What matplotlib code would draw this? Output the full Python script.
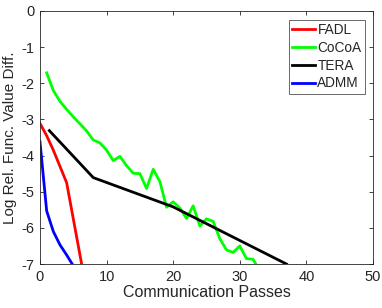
import matplotlib
matplotlib.use("Agg")
import matplotlib.pyplot as plt

fadl_x = [0, 1, 2, 3, 4, 5, 6, 7]
fadl_y = [-3.11, -3.45, -3.85, -4.3, -4.75, -5.75, -6.75, -7.75]

cocoa_x = list(range(1, 33)) + [32.4]
cocoa_y = [-1.71, -2.2, -2.5, -2.72, -2.93, -3.12, -3.32, -3.57, -3.65, -3.85, -4.14,
           -4.02, -4.28, -4.49, -4.5, -4.91, -4.38, -4.72, -5.43, -5.28, -5.45, -5.74,
           -5.39, -5.95, -5.75, -5.82, -6.3, -6.61, -6.68, -6.5, -6.85, -6.87, -7.0]

tera_x = [1.4, 8, 20, 37]
tera_y = [-3.31, -4.61, -5.42, -7.0]

admm_x = [0, 1, 2, 3, 4, 5]
admm_y = [-3.62, -5.53, -6.1, -6.47, -6.75, -7.05]

xticks = [0, 10, 20, 30, 40, 50]
yticks = [0, -1, -2, -3, -4, -5, -6, -7]

plt.rcParams['font.family'] = ['Liberation Sans', 'DejaVu Sans']

fig = plt.figure(figsize=(3.82, 3.08), dpi=100)
ax = fig.add_axes([40/382, 1 - 264/308, (373-40)/382, (264-11)/308])

lw = 2.0
ax.plot(fadl_x, fadl_y, color='#ff0000', lw=lw, label='FADL')
ax.plot(cocoa_x, cocoa_y, color='#00ff00', lw=lw, label='CoCoA')
ax.plot(tera_x, tera_y, color='#000000', lw=lw, label='TERA')
ax.plot(admm_x, admm_y, color='#0000ff', lw=lw, label='ADMM')

ax.set_xlim(0, 50)
ax.set_ylim(-7, 0)
ax.set_xticks(xticks)
ax.set_yticks(yticks)
ax.set_yticklabels([str(v) for v in yticks])
ax.tick_params(direction='in', top=True, right=True, length=3, width=0.6,
               color='#262626', labelsize=10.5, labelcolor='#262626', pad=4)
for s in ax.spines.values():
    s.set_color('#262626')
    s.set_linewidth(0.6)

ax.set_xlabel('Communication Passes', fontsize=11.5, color='#262626', labelpad=1)
ax.set_ylabel('Log Rel. Func. Value Diff.', fontsize=11, color='#262626', labelpad=3)

leg = ax.legend(loc='upper right', fontsize=9.8, frameon=True, fancybox=False,
                edgecolor='#262626', borderpad=0.25, handlelength=1.7,
                handletextpad=0.15, labelspacing=0.28, borderaxespad=0.35,
                bbox_to_anchor=(0.99, 0.985))
leg.get_frame().set_linewidth(0.6)
for t in leg.get_texts():
    t.set_color('#262626')

fig.savefig('out.png', dpi=100)
